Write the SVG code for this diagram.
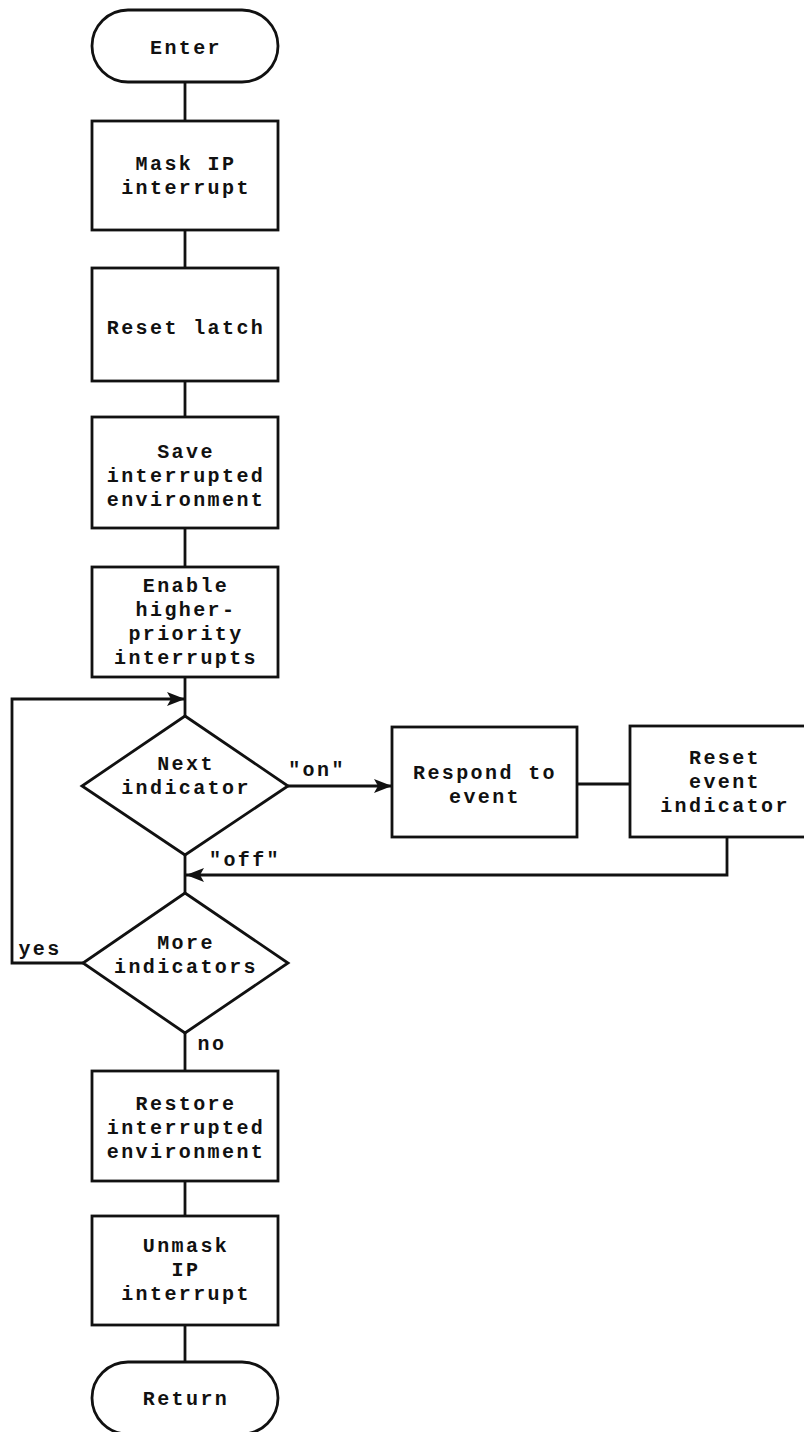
<svg xmlns="http://www.w3.org/2000/svg" width="804" height="1432" viewBox="0 0 804 1432">
<style>
.s{fill:#fff;stroke:#111;stroke-width:2.8}
.c{fill:none;stroke:#111;stroke-width:2.8}
text{font-family:"Liberation Mono","Courier New",monospace;font-weight:bold;font-size:20px;letter-spacing:2.4px;fill:#111;text-anchor:middle}
</style>
<defs>
<marker id="ah" viewBox="0 0 18 14" refX="18" refY="7" markerWidth="18" markerHeight="14" markerUnits="userSpaceOnUse" orient="auto">
<path d="M0,0 L18,7 L0,14 L4,7 Z" fill="#111"/>
</marker>
</defs>
<rect width="804" height="1432" fill="#fff"/>
<g id="connectors">
<line class="c" x1="185" y1="82" x2="185" y2="121"/>
<line class="c" x1="185" y1="230" x2="185" y2="268"/>
<line class="c" x1="185" y1="381" x2="185" y2="417"/>
<line class="c" x1="185" y1="528" x2="185" y2="567"/>
<line class="c" x1="185" y1="677" x2="185" y2="716"/>
<polyline class="c" points="83,963 12,963 12,699 185,699" marker-end="url(#ah)"/>
<line class="c" x1="288" y1="786" x2="392" y2="786" marker-end="url(#ah)"/>
<line class="c" x1="577" y1="784" x2="630" y2="784"/>
<polyline class="c" points="727,837 727,875 186,875" marker-end="url(#ah)"/>
<line class="c" x1="185" y1="855" x2="185" y2="893"/>
<line class="c" x1="185" y1="1033" x2="185" y2="1071"/>
<line class="c" x1="185" y1="1181" x2="185" y2="1216"/>
<line class="c" x1="185" y1="1325" x2="185" y2="1362"/>
<text x="317" y="776">"on"</text>
<text x="245" y="866">"off"</text>
<text x="40" y="955">yes</text>
<text x="212" y="1050">no</text>
</g>
<g id="enter">
<rect class="s" x="92" y="10" width="186" height="72" rx="36"/>
<text x="186" y="54">Enter</text>
</g>
<g id="mask">
<rect class="s" x="92" y="121" width="186" height="109"/>
<text x="186" y="170">Mask IP</text>
<text x="186" y="194">interrupt</text>
</g>
<g id="resetlatch">
<rect class="s" x="92" y="268" width="186" height="113"/>
<text x="186" y="334">Reset latch</text>
</g>
<g id="save">
<rect class="s" x="92" y="417" width="186" height="111"/>
<text x="186" y="458">Save</text>
<text x="186" y="482">interrupted</text>
<text x="186" y="506">environment</text>
</g>
<g id="enable">
<rect class="s" x="92" y="567" width="186" height="110"/>
<text x="186" y="592">Enable</text>
<text x="186" y="616">higher-</text>
<text x="186" y="640">priority</text>
<text x="186" y="664">interrupts</text>
</g>
<g id="next">
<polygon class="s" points="185,716 288,786 185,855 82,786"/>
<text x="186" y="770">Next</text>
<text x="186" y="794">indicator</text>
</g>
<g id="respond">
<rect class="s" x="392" y="727" width="185" height="110"/>
<text x="485" y="779">Respond to</text>
<text x="485" y="803">event</text>
</g>
<g id="resetevent">
<rect class="s" x="630" y="726" width="190" height="111"/>
<text x="725" y="764">Reset</text>
<text x="725" y="788">event</text>
<text x="725" y="812">indicator</text>
</g>
<g id="more">
<polygon class="s" points="185,893 288,963 185,1033 83,963"/>
<text x="186" y="949">More</text>
<text x="186" y="973">indicators</text>
</g>
<g id="restore">
<rect class="s" x="92" y="1071" width="186" height="110"/>
<text x="186" y="1110">Restore</text>
<text x="186" y="1134">interrupted</text>
<text x="186" y="1158">environment</text>
</g>
<g id="unmask">
<rect class="s" x="92" y="1216" width="186" height="109"/>
<text x="186" y="1252">Unmask</text>
<text x="186" y="1276">IP</text>
<text x="186" y="1300">interrupt</text>
</g>
<g id="return">
<rect class="s" x="92" y="1362" width="186" height="72" rx="36"/>
<text x="186" y="1405">Return</text>
</g>
</svg>
